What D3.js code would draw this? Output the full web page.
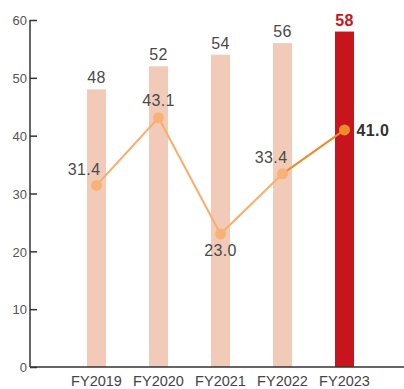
<!DOCTYPE html>
<html>
<head>
<meta charset="utf-8">
<script src="https://cdn.jsdelivr.net/npm/d3@7"></script>
<style>
  html, body { margin: 0; padding: 0; background: #fff; }
  svg { display: block; font-family: "Liberation Sans", Arial, sans-serif; }
</style>
</head>
<body>
<svg id="chart" width="404" height="389"></svg>
<script>
// Fiscal years on the x axis
const years = ["FY2019", "FY2020", "FY2021", "FY2022", "FY2023"];
// Bar series (left axis)
const barValues = [48, 52, 54, 56, 58];
// Line series
const lineValues = [31.4, 43.1, 23.0, 33.4, 41.0];
// Left axis ticks
const yTicks = [0, 10, 20, 30, 40, 50, 60];

const svg = d3.select("#chart");

const x = d3.scaleBand()
  .domain(years)
  .range([65.5, 375.5])
  .paddingInner(0.694)
  .paddingOuter(0.347);

const y = d3.scaleLinear().domain([0, 60]).range([367, 20]);

const cx = d => x(d) + x.bandwidth() / 2;
const last = years.length - 1;

// Bars
svg.append("g").selectAll("rect")
  .data(years)
  .join("rect")
  .attr("x", d => x(d))
  .attr("width", x.bandwidth())
  .attr("y", (d, i) => y(barValues[i]))
  .attr("height", (d, i) => y(0) - y(barValues[i]))
  .attr("fill", (d, i) => i === last ? "#c8141c" : "#f2cbb8");

// Bar value labels
svg.append("g").selectAll("text")
  .data(years)
  .join("text")
  .attr("x", d => cx(d))
  .attr("y", (d, i) => y(barValues[i]) - 6)
  .attr("text-anchor", "middle")
  .attr("font-size", 16)
  .attr("letter-spacing", 0.4)
  .attr("font-weight", (d, i) => i === last ? "bold" : "normal")
  .attr("fill", (d, i) => i === last ? "#c8141c" : "#4a4a4a")
  .text((d, i) => barValues[i]);

// Y axis
const yAxis = d3.axisLeft(y).tickValues(yTicks).tickSize(-7).tickPadding(10);
const gy = svg.append("g").attr("transform", "translate(30,0)").call(yAxis);
gy.select(".domain").attr("stroke", "#333").attr("stroke-width", 1.5).attr("d", "M0,20V367");
gy.selectAll(".tick line").attr("stroke", "#333").attr("stroke-width", 1.5);
gy.selectAll(".tick text").attr("font-size", 13).attr("fill", "#555")
  .attr("font-family", "Liberation Sans, Arial, sans-serif").attr("x", -3).attr("dy", "0.36em");

// X axis
const xAxis = d3.axisBottom(x).tickSize(0).tickPadding(9);
const gx = svg.append("g").attr("transform", "translate(0,367)").call(xAxis);
gx.select(".domain").attr("stroke", "#333").attr("stroke-width", 1.5).attr("d", "M30,0H404");
gx.selectAll(".tick text").attr("font-size", 14.5).attr("fill", "#444")
  .attr("font-family", "Liberation Sans, Arial, sans-serif");

// Line series: earlier years light, the latest segment stronger
const pts = years.map((d, i) => [cx(d), y(lineValues[i])]);
const line = d3.line();
svg.append("path")
  .attr("d", line(pts.slice(0, last)))
  .attr("fill", "none").attr("stroke", "#f9ae6c").attr("stroke-width", 2);
svg.append("path")
  .attr("d", line(pts.slice(last - 1)))
  .attr("fill", "none").attr("stroke", "#f08a28").attr("stroke-width", 2);

svg.append("g").selectAll("circle")
  .data(years)
  .join("circle")
  .attr("cx", d => cx(d))
  .attr("cy", (d, i) => y(lineValues[i]))
  .attr("r", 5.5)
  .attr("fill", (d, i) => i === last ? "#f28c28" : "#f9b276");

// Line value labels, placed around each point
const offsets = [
  { dx: 4, dy: -10, anchor: "end" },
  { dx: 0, dy: -12, anchor: "middle" },
  { dx: 0, dy: 22, anchor: "middle" },
  { dx: 5, dy: -11, anchor: "end" },
  { dx: 12, dy: 6, anchor: "start" }
];
svg.append("g").selectAll("text")
  .data(years)
  .join("text")
  .attr("x", (d, i) => cx(d) + offsets[i].dx)
  .attr("y", (d, i) => y(lineValues[i]) + offsets[i].dy)
  .attr("text-anchor", (d, i) => offsets[i].anchor)
  .attr("font-size", 16)
  .attr("letter-spacing", 0.4)
  .attr("font-weight", (d, i) => i === last ? "bold" : "normal")
  .attr("fill", (d, i) => i === last ? "#333" : "#4a4a4a")
  .text((d, i) => lineValues[i].toFixed(1));
</script>
</body>
</html>
